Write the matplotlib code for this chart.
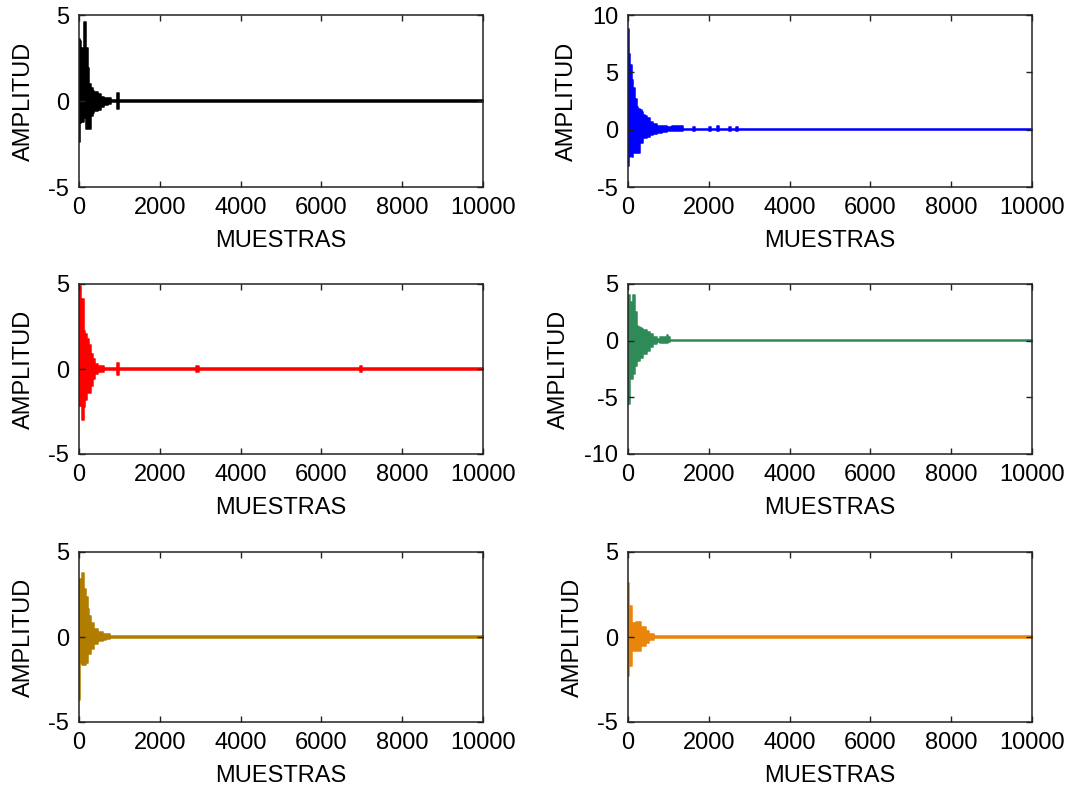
import matplotlib
matplotlib.use("Agg")
import matplotlib.pyplot as plt

plt.rcParams['font.family'] = ['Liberation Sans', 'DejaVu Sans']
plt.rcParams['axes.unicode_minus'] = False

# Amplitude envelopes (upper / lower) of each recorded signal, sampled at
# breakpoints along the sample axis; each value holds until the next breakpoint.
t_black = [0, 20, 50, 115, 165, 215, 255, 300, 340, 380, 460, 545, 630, 710, 800, 940, 990, 10000]
hi_black = [3.6, 3.5, 3.1, 4.6, 3.1, 1.9, 1.0, 0.75, 0.6, 0.55, 0.4, 0.25, 0.18, 0.15, 0.08, 0.45, 0.08, 0.08]
lo_black = [-2.4, -1.3, -1.2, -1.0, -1.6, -1.6, -1.6, -0.9, -0.7, -0.6, -0.5, -0.35, -0.25, -0.18, -0.08, -0.45, -0.08, -0.08]

t_blue = [0, 30, 50, 90, 130, 175, 215, 255, 300, 340, 380, 420, 460, 545, 630, 710, 830, 960,
          1100, 1370, 1600, 1650, 2000, 2060, 2200, 2260, 2500, 2550, 2680, 2720, 10000]
hi_blue = [8.8, 6.6, 5.6, 4.3, 3.6, 2.7, 2.0, 1.8, 1.7, 1.5, 1.3, 1.15, 1.0, 0.7, 0.5, 0.35, 0.3, 0.2,
           0.3, 0.05, 0.25, 0.05, 0.25, 0.05, 0.3, 0.05, 0.25, 0.05, 0.25, 0.05, 0.05]
lo_blue = [-3.2, -2.4, -2.3, -2.35, -2.0, -2.0, -1.5, -2.0, -1.2, -1.2, -0.75, -0.75, -0.6, -0.45, -0.35, -0.25, -0.2, -0.12,
           -0.15, -0.05, -0.1, -0.05, -0.1, -0.05, -0.15, -0.05, -0.1, -0.05, -0.1, -0.05, -0.05]

t_red = [0, 50, 66, 115, 150, 200, 255, 300, 340, 400, 460, 630, 940, 985, 2900, 2960, 6950, 7010, 10000]
hi_red = [4.9, 4.1, 4.1, 2.25, 2.05, 1.75, 1.4, 0.9, 0.6, 0.3, 0.15, 0.08, 0.35, 0.08, 0.2, 0.08, 0.18, 0.08, 0.08]
lo_red = [-2.15, -2.15, -3.0, -2.25, -1.85, -1.4, -1.4, -1.0, -0.6, -0.3, -0.15, -0.08, -0.35, -0.08, -0.2, -0.08, -0.18, -0.08, -0.08]

t_green = [0, 60, 115, 130, 175, 215, 255, 300, 340, 380, 420, 460, 545, 630, 710, 790, 900, 960, 1000, 1040, 10000]
hi_green = [4.0, 3.4, 3.4, 4.0, 2.5, 1.3, 1.2, 1.1, 1.0, 0.95, 0.9, 0.8, 0.6, 0.3, 0.15, 0.35, 0.35, 0.5, 0.3, 0.05, 0.05]
lo_green = [-5.6, -3.4, -2.9, -2.9, -2.2, -1.8, -1.8, -1.5, -1.5, -1.2, -1.2, -0.9, -0.6, -0.3, -0.15, -0.18, -0.18, -0.18, -0.1, -0.05, -0.05]

t_gold = [0, 25, 66, 115, 175, 215, 255, 300, 380, 460, 590, 670, 760, 10000]
hi_gold = [3.4, 3.4, 3.75, 2.85, 2.35, 1.65, 1.25, 0.8, 0.5, 0.3, 0.2, 0.15, 0.08, 0.08]
lo_gold = [-3.7, -1.55, -1.65, -1.65, -1.5, -1.0, -1.0, -0.7, -0.4, -0.25, -0.15, -0.13, -0.08, -0.08]

t_orange = [0, 25, 90, 190, 314, 437, 520, 644, 10000]
hi_orange = [3.2, 1.8, 0.8, 0.9, 0.6, 0.35, 0.15, 0.08, 0.08]
lo_orange = [-2.3, -1.7, -0.85, -0.8, -0.55, -0.35, -0.15, -0.08, -0.08]

colors = ['#000000', '#0000FF', '#FF0000', '#2E8B57', '#B07D00', '#E8850A']
ylims = [(-5, 5), (-5, 10), (-5, 5), (-10, 5), (-5, 5), (-5, 5)]
yticks = [[-5, 0, 5], [-5, 0, 5, 10], [-5, 0, 5], [-10, -5, 0, 5], [-5, 0, 5], [-5, 0, 5]]
xticks = [0, 2000, 4000, 6000, 8000, 10000]
xlabel = 'MUESTRAS'
ylabel = 'AMPLITUD'

signals = [(t_black, hi_black, lo_black), (t_blue, hi_blue, lo_blue),
           (t_red, hi_red, lo_red), (t_green, hi_green, lo_green),
           (t_gold, hi_gold, lo_gold), (t_orange, hi_orange, lo_orange)]

W, H = 1070, 788
fig = plt.figure(figsize=(W / 100, H / 100), dpi=100)

# axes rectangles in pixels: left, top, width, height
lefts = [79, 628]
rows = [(15, 172), (284, 170), (552, 170)]

fs = 17
for i, (t, hi, lo) in enumerate(signals):
    r, c = divmod(i, 2)
    top, h = rows[r]
    x0 = lefts[c]
    ax = fig.add_axes([x0 / W, 1 - (top + h) / H, 404 / W, h / H])
    ax.fill_between(t, lo, hi, step='post', facecolor=colors[i],
                    edgecolor=colors[i], linewidth=1.1)
    ax.set_xlim(0, 10000)
    ax.set_ylim(*ylims[i])
    ax.set_xticks(xticks)
    ax.set_yticks(yticks[i])
    ax.tick_params(direction='in', top=True, right=True, length=4.5, width=1,
                   labelsize=fs, pad=7, colors='#222222', labelcolor='black')
    for s in ax.spines.values():
        s.set_linewidth(1.1)
        s.set_color('#222222')
    ax.set_xlabel(xlabel, fontsize=fs, labelpad=8)
    ax.set_ylabel(ylabel, fontsize=fs, labelpad=10)

fig.savefig('out.png', dpi=100)
